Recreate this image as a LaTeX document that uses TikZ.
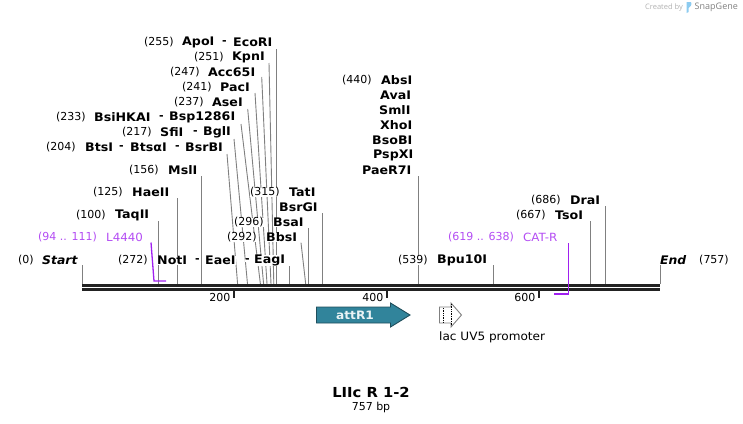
\documentclass[tikz,border=0pt]{standalone}
\usepackage{fontspec}
\setmainfont{DejaVu Sans}
\newfontfamily\widefont[FakeStretch=1.07]{DejaVu Sans}
\newfontfamily\midfont[FakeStretch=1.05]{DejaVu Sans}
\newfontfamily\logofont{Open Sans}
\definecolor{sitegray}{HTML}{808080}
\definecolor{primer}{HTML}{A020F0}
\definecolor{bardark}{HTML}{222222}
\definecolor{teal}{HTML}{31849B}
\definecolor{tealdark}{HTML}{1F4E5C}
\definecolor{logoblue}{HTML}{8CCBF0}
\tikzset{
  base/.style={anchor=west,inner sep=0pt,yshift=-.5pt,font=\fontsize{11}{13}\selectfont},
  num/.style={base,fill=white,text=black},
  dashmark/.style={base,fill=white,text=black,font=\fontsize{11}{13}\selectfont\bfseries},
  ename/.style={base,fill=white,font=\widefont\fontsize{11.8}{13}\selectfont\bfseries},
  ital/.style={base,fill=white,font=\midfont\fontsize{11.8}{13}\selectfont\bfseries\itshape},
  pnum/.style={base,text=primer!80},
  pname/.style={base,text=primer!80,font=\midfont\fontsize{11.3}{13}\selectfont},
  siteline/.style={draw=sitegray,line width=.9pt},
  primerline/.style={draw=primer,line width=1.3pt},
  barline/.style={draw=bardark,line width=3pt},
  tick/.style={draw=bardark,line width=1.6pt},
  ticklabel/.style={anchor=east,inner sep=0pt,font=\fontsize{11}{13}\selectfont},
}
\newcommand{\site}[4]{%
  \coordinate (b#1) at (#2,284);
  \coordinate (t#1) at (#3,#4);
  \draw[siteline] (b#1) -- (t#1);}
\begin{document}
\begin{tikzpicture}[x=1pt,y=-1pt]
\useasboundingbox (0,0) rectangle (743,423);
% sites
\site{a}{82}{82}{265}
\site{b}{158.3}{158.3}{221}
\site{c}{177.4}{177.4}{198}
\site{d}{201}{201}{176}
\site{e}{237.6}{227}{154}
\site{f}{247.5}{234}{139}
\site{g}{260.4}{241}{124}
\site{h}{263.6}{247.7}{109}
\site{i}{267}{255}{93}
\site{j}{271}{261.7}{77}
\site{k}{273.8}{269}{63}
\site{l}{276.7}{276.7}{49}
\site{m}{289.5}{289.5}{266}
\site{n}{305.7}{301}{242.7}
\site{o}{308.3}{308.3}{228}
\site{p}{322.4}{322.4}{213}
\site{q}{418}{418}{176}
\site{r}{493.3}{493.3}{265}
\site{s}{590.5}{590.5}{221}
\site{u}{605.5}{605.5}{206}
\site{v}{660}{660}{265}
% labels
\node[num] (n255) at (144,42) {(255)};
\node[ename] (e255a) at (182,42) {ApoI};
\node[dashmark] (d255) at (222,42) {-};
\node[ename] (e255b) at (233,42) {EcoRI};
\node[num] (n251) at (194,57) {(251)};
\node[ename] (e251) at (232,57) {KpnI};
\node[num] (n247) at (170,72) {(247)};
\node[ename] (e247) at (208,72) {Acc65I};
\node[num] (n241) at (182,87) {(241)};
\node[ename] (e241) at (220,87) {PacI};
\node[num] (n237) at (174,102) {(237)};
\node[ename] (e237) at (212,102) {AseI};
\node[num] (n233) at (56,117) {(233)};
\node[ename] (e233a) at (94,117) {BsiHKAI};
\node[dashmark] (d233) at (159,117) {-};
\node[ename] (e233b) at (169,117) {Bsp1286I};
\node[num] (n217) at (122,132) {(217)};
\node[ename] (e217a) at (160,132) {SfiI};
\node[dashmark] (d217) at (193,132) {-};
\node[ename] (e217b) at (203,132) {BglI};
\node[num] (n204) at (46,147) {(204)};
\node[ename] (e204a) at (85,147) {BtsI};
\node[dashmark] (d204a) at (119,147) {-};
\node[ename] (e204b) at (130,147) {BtsαI};
\node[dashmark] (d204b) at (175,147) {-};
\node[ename] (e204c) at (185,147) {BsrBI};
\node[num] (n156) at (129,170) {(156)};
\node[ename] (e156) at (168,170) {MslI};
\node[num] (n125) at (93,192) {(125)};
\node[ename] (e125) at (132,192) {HaeII};
\node[num] (n100) at (76,215) {(100)};
\node[ename] (e100) at (115,215) {TaqII};
\node[pnum] (np1) at (38,237) {(94 .. 111)};
\node[pname] (ep1) at (106,237) {L4440};
\node[num] (n0) at (18,260) {(0)};
\node[ital] (e0) at (42,260) {Start};
\node[num] (n272) at (118,260) {(272)};
\node[ename] (e272a) at (157,260) {NotI};
\node[dashmark] (d272a) at (195,260) {-};
\node[ename] (e272b) at (205,260) {EaeI};
\node[dashmark] (d272b) at (245,260) {-};
\node[ename] (e272c) at (254,260) {EagI};
\node[num] (n315) at (250,192) {(315)};
\node[ename] (e315a) at (289,192) {TatI};
\node[ename] (e315b) at (279,207) {BsrGI};
\node[num] (n296) at (234,222) {(296)};
\node[ename] (e296) at (273,222) {BsaI};
\node[num] (n292) at (227,237) {(292)};
\node[ename] (e292) at (266,237) {BbsI};
\node[num] (n440) at (342,80) {(440)};
\node[ename] (e440a) at (381,80) {AbsI};
\node[ename] (e440b) at (380,95) {AvaI};
\node[ename] (e440c) at (379,110) {SmlI};
\node[ename] (e440d) at (380,125) {XhoI};
\node[ename] (e440e) at (372,140) {BsoBI};
\node[ename] (e440f) at (373,155) {PspXI};
\node[ename] (e440g) at (362,170) {PaeR7I};
\node[num] (n539) at (398,260) {(539)};
\node[ename] (e539) at (437,260) {Bpu10I};
\node[pnum] (np2) at (448,237) {(619 .. 638)};
\node[pname] (ep2) at (523,237) {CAT-R};
\node[num] (n667) at (516,215) {(667)};
\node[ename] (e667) at (555,215) {TsoI};
\node[num] (n686) at (531,200) {(686)};
\node[ename] (e686) at (570,200) {DraI};
\node[ital] (e757) at (660,260) {End};
\node[num] (n757) at (699,260) {(757)};
% backbone
\coordinate (bar0) at (82,285.5);
\coordinate (bar1) at (660,285.5);
\coordinate (bar2) at (82,289.3);
\coordinate (bar3) at (660,289.3);
\draw[barline] (bar0) -- (bar1);
\draw[barline] (bar2) -- (bar3);
% ticks
\coordinate (ta) at (234,291); \coordinate (tb) at (234,298);
\coordinate (tc) at (387,291); \coordinate (td) at (387,298);
\coordinate (te) at (539,291); \coordinate (tf) at (539,298);
\draw[tick] (ta) -- (tb);
\draw[tick] (tc) -- (td);
\draw[tick] (te) -- (tf);
\node[ticklabel] (l200) at (230.5,297) {200};
\node[ticklabel] (l400) at (383.5,297) {400};
\node[ticklabel] (l600) at (535.5,297) {600};
% primers
\coordinate (pa) at (151,242.5); \coordinate (pb) at (154,281); \coordinate (pc) at (166,281);
\draw[primerline] (pa) -- (pb) -- (pc);
\coordinate (pd) at (568.5,243); \coordinate (pe) at (568.5,294); \coordinate (pf) at (554,294);
\draw[primerline] (pd) -- (pe) -- (pf);
% features
\draw[draw=tealdark,fill=teal,line width=.9pt] (316.5,307) -- (390.5,307) -- (390.5,303) -- (410,315) -- (390.5,327) -- (390.5,323) -- (316.5,323) -- cycle;
\node[anchor=center,inner sep=0pt,text=white!90!teal,font=\midfont\fontsize{11.6}{13}\selectfont\bfseries] (attr) at (355,315) {attR1};
\draw[draw=sitegray,fill=white,line width=.9pt] (439.5,307) -- (451,307) -- (451,303) -- (461.5,315) -- (451,327) -- (451,323) -- (439.5,323) -- cycle;
\draw[black,line width=.7pt,densely dotted] (443,308) -- (443,322);
\draw[black,line width=.7pt,densely dotted] (451.5,304) -- (451.5,326);
\node[base,font=\midfont\fontsize{11.5}{13}\selectfont] (lac) at (439,337) {lac UV5 promoter};
% title
\node[anchor=center,inner sep=0pt,font=\widefont\fontsize{13.8}{15}\selectfont\bfseries] (title) at (371,392) {LIIc R 1-2};
\node[anchor=center,inner sep=0pt,font=\fontsize{11}{12}\selectfont] (bp) at (371,407) {757 bp};
% logo
\node[anchor=west,inner sep=0pt,text=black!30,font=\logofont\fontsize{7.5}{8}\selectfont] (created) at (645,7.5) {Created by};
\fill[logoblue] (686.5,2) -- (691,2) .. controls (692.5,5) and (690,7) .. (688.5,8) -- (688.5,12) -- (686.5,13) -- cycle;
\node[anchor=west,inner sep=0pt,text=black!50,font=\logofont\fontsize{9}{10}\selectfont] (snap) at (694.5,7.5) {SnapGene};
\end{tikzpicture}
\end{document}
